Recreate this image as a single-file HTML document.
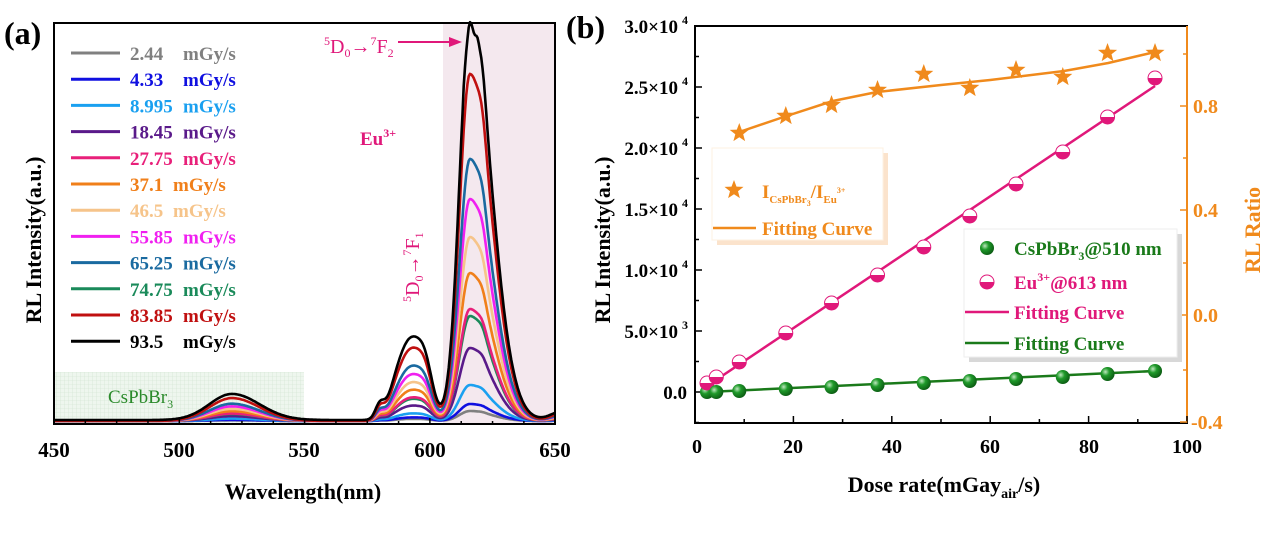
<!DOCTYPE html>
<html><head><meta charset="utf-8"><style>
body{margin:0;background:#fff;}
svg{display:block;font-family:"Liberation Serif",serif;}
</style></head><body>
<svg id="s" width="1268" height="539" viewBox="0 0 1268 539" xmlns="http://www.w3.org/2000/svg">
<defs>
<pattern id="grid" width="4" height="4" patternUnits="userSpaceOnUse"><rect width="4" height="4" fill="#eef6ee"/><path d="M0 0H4M0 0V4" stroke="#cfe3cf" stroke-width="0.6"/></pattern>
<radialGradient id="gb" cx="0.35" cy="0.35" r="0.7"><stop offset="0" stop-color="#bfe8bf"/><stop offset="0.4" stop-color="#1f9a2a"/><stop offset="1" stop-color="#0b5a12"/></radialGradient>
</defs>
<!-- Panel a -->
<rect x="443" y="23" width="112" height="401" fill="#f4e8ee"/>
<rect x="54" y="372" width="250" height="52" fill="url(#grid)"/>
<g id="curves" fill="none" stroke-width="2.6" stroke-linejoin="round"></g>
<rect x="54" y="23" width="501" height="401" fill="none" stroke="#000" stroke-width="2"/>
<g stroke="#000" stroke-width="1.5" id="ticksA"></g>
<g font-size="21" font-weight="bold" text-anchor="middle">
<text x="54" y="457">450</text><text x="179" y="457">500</text><text x="304" y="457">550</text><text x="430" y="457">600</text><text x="555" y="457">650</text>
</g>
<text x="303" y="499" font-size="22" font-weight="bold" text-anchor="middle">Wavelength(nm)</text>
<text transform="translate(41,240) rotate(-90)" font-size="22" font-weight="bold" text-anchor="middle">RL Intensity(a.u.)</text>
<text x="4" y="44" font-size="32" font-weight="bold">(a)</text>
<g id="legA" font-size="19" font-weight="bold"></g>
<text x="108" y="403" font-size="19" fill="#2a8a2a">CsPbBr<tspan font-size="12" dy="5">3</tspan></text>
<text x="360" y="145" font-size="19" font-weight="bold" fill="#e0187a">Eu<tspan font-size="12" dy="-8">3+</tspan></text>
<text x="324" y="53" font-size="20" fill="#e0187a"><tspan font-size="12" dy="-8">5</tspan><tspan dy="8">D</tspan><tspan font-size="12" dy="4">0</tspan><tspan dy="-4">→</tspan><tspan font-size="12" dy="-8">7</tspan><tspan dy="8">F</tspan><tspan font-size="12" dy="4">2</tspan></text>
<line x1="398" y1="42" x2="452" y2="42" stroke="#e0187a" stroke-width="2"/><polygon points="462,42 449,37 449,47" fill="#e0187a"/>
<text transform="translate(419,302) rotate(-90)" font-size="20" fill="#e0187a"><tspan font-size="12" dy="-8">5</tspan><tspan dy="8">D</tspan><tspan font-size="12" dy="4">0</tspan><tspan dy="-4">→</tspan><tspan font-size="12" dy="-8">7</tspan><tspan dy="8">F</tspan><tspan font-size="12" dy="4">1</tspan></text>

<!-- Panel b -->
<text x="566" y="38" font-size="32" font-weight="bold">(b)</text>
<rect x="695" y="26" width="492" height="397" fill="none" stroke="#000" stroke-width="2"/>
<line x1="1187" y1="26" x2="1187" y2="423" stroke="#f08a1c" stroke-width="2"/>
<g id="ticksB" stroke-width="1.5"></g>
<g font-size="19" font-weight="bold" text-anchor="end" id="ylabB"></g>
<g font-size="20" font-weight="bold" text-anchor="middle">
<text x="697" y="453">0</text><text x="793" y="453">20</text><text x="892" y="453">40</text><text x="990" y="453">60</text><text x="1089" y="453">80</text><text x="1187" y="453">100</text>
</g>
<g font-size="20" font-weight="bold" fill="#f08a1c">
<text x="1193" y="113">0.8</text><text x="1193" y="217">0.4</text><text x="1193" y="322">0.0</text><text x="1191" y="429">-0.4</text>
</g>
<text x="944" y="492" font-size="22" font-weight="bold" text-anchor="middle">Dose rate(mGay<tspan font-size="14" dy="6">air</tspan><tspan dy="-6">/s)</tspan></text>
<text transform="translate(610,240) rotate(-90)" font-size="22" font-weight="bold" text-anchor="middle">RL Intensity(a.u.)</text>
<text transform="translate(1260,230) rotate(-90)" font-size="22" font-weight="bold" text-anchor="middle" fill="#f08a1c">RL Ratio</text>
<g id="dataB"></g>
<!-- legends -->
<rect x="717" y="153" width="171" height="92" fill="#fbe3cc"/>
<rect x="712" y="148" width="171" height="92" fill="#fff" stroke="#fdf0e2"/>
<g font-size="19" font-weight="bold" fill="#f08a1c">
<text x="762" y="198">I<tspan font-size="11" dy="5">CsPbBr</tspan><tspan font-size="8" dy="3">3</tspan><tspan dy="-8">/I</tspan><tspan font-size="11" dy="5">Eu</tspan><tspan font-size="8" dy="-10">3+</tspan></text>
<text x="762" y="235">Fitting Curve</text>
</g>
<line x1="713" y1="228" x2="756" y2="228" stroke="#f08a1c" stroke-width="2.5"/>
<rect x="969" y="234" width="213" height="128" fill="#d8d8d8"/>
<rect x="964" y="229" width="213" height="128" fill="#fff" stroke="#eee"/>
<g font-size="19" font-weight="bold">
<text x="1014" y="255" fill="#1a7a1a">CsPbBr<tspan font-size="12" dy="5">3</tspan><tspan dy="-5">@510 nm</tspan></text>
<text x="1014" y="289" fill="#e0187a">Eu<tspan font-size="12" dy="-8">3+</tspan><tspan dy="8">@613 nm</tspan></text>
<text x="1014" y="319" fill="#e0187a">Fitting Curve</text>
<text x="1014" y="350" fill="#1a7a1a">Fitting Curve</text>
</g>
<line x1="965" y1="312" x2="1009" y2="312" stroke="#e0187a" stroke-width="2.5"/>
<line x1="965" y1="343" x2="1009" y2="343" stroke="#1a7a1a" stroke-width="2.5"/>
<g id="legB"></g>
</svg>
<script>
var NS="http://www.w3.org/2000/svg";
function el(p,t,a){var e=document.createElementNS(NS,t);for(var k in a)e.setAttribute(k,a[k]);document.getElementById(p).appendChild(e);return e;}
var X=function(l){return 54+(l-450)*2.506;};
function g(l,m,s){return Math.exp(-0.5*Math.pow((l-m)/s,2));}
function shape(l){
 var v=0;
 v+= (l<616? g(l,616,4.2):g(l,616,8.5));
 v+=0.05*g(l,621,1.5);
 v+=0.2*g(l,592.5,5)+0.07*g(l,598.5,2.8)+0.03*g(l,586,3);
 v+=0.035*g(l,580,1.8);
 v+=0.066*(l<521?g(l,521,9):g(l,521,11));
 v+=0.02*g(l,652,4);
 return v;}
var ser=[["#808080",10,"2.44","mGy/s",1],["#1010e0",17,"4.33","mGy/s",1],["#1aa0f0",36,"8.995","mGy/s",0],["#5a1a8a",73,"18.45","mGy/s",0],["#e8207a",112,"27.75","mGy/s",0],["#f07f1a",148,"37.1","mGy/s",0],["#f6c48a",184,"46.5","mGy/s",0],["#f020f0",222,"55.85","mGy/s",0],["#1a6aa0",262,"65.25","mGy/s",0],["#1a8a5a",105,"74.75","mGy/s",0],["#c01010",347,"83.85","mGy/s",0],["#000000",395,"93.5","mGy/s",1]];
var order=[0,1,2,3,9,4,5,6,7,8,10,11];
order.forEach(function(i){var s=ser[i];var d="";
 for(var l=450;l<=650;l+=0.5){var y=421-s[1]*shape(l)-(i==11?1:0);
  if(i==11&&l>613&&l<620)y+=3*Math.sin(l*2.2);
  d+=(l==450?"M":"L")+X(l).toFixed(1)+" "+y.toFixed(1);}
 el("curves","path",{d:d,stroke:s[0]});});
ser.forEach(function(s,i){var y=53+i*26.2;
 el("legA","line",{x1:71,x2:120,y1:y,y2:y,stroke:s[0],"stroke-width":3});
 var t=el("legA","text",{x:130,y:y+7,fill:s[0]});t.textContent=s[2];
 var t2=el("legA","text",{x:s[4]?183:(s[2].length>4?183:178),y:y+7,fill:s[0]});t2.textContent=s[3];
 if(s[2]=="37.1"||s[2]=="46.5"){t2.setAttribute("x",173);}});
for(var l=450;l<=650;l+=12.5){var big=(l%50==0);el("ticksA","line",{x1:X(l),x2:X(l),y1:424,y2:big?418:421});}
var XB=function(d){return 695+d*4.92;};
for(var d=0;d<=100;d+=10){el("ticksB","line",{x1:XB(d),x2:XB(d),y1:423,y2:d%20==0?416:419,stroke:"#000"});}
var yl=[["3.0×10","4",26],["2.5×10","4",87],["2.0×10","4",148],["1.5×10","4",209],["1.0×10","4",270],["5.0×10","3",331],["0.0","",392]];
yl.forEach(function(a){el("ticksB","line",{x1:695,x2:702,y1:a[2],y2:a[2],stroke:"#000"});
 el("ticksB","line",{x1:695,x2:699,y1:a[2]+30.5,y2:a[2]+30.5,stroke:"#000"});
 var t=el("ylabB","text",{x:a[1]?678:687,y:a[2]+7});t.textContent=a[0];
 if(a[1]){var s=el("ylabB","text",{x:688,y:a[2]-2,"font-size":12});s.textContent=a[1];}});
[106,210,315,422].forEach(function(y){el("ticksB","line",{x1:1187,x2:1180,y1:y,y2:y,stroke:"#f08a1c"});el("ticksB","line",{x1:1187,x2:1183,y1:y-52,y2:y-52,stroke:"#f08a1c"});});
var dose=[2.44,4.33,8.995,18.45,27.75,37.1,46.5,55.85,65.25,74.75,83.85,93.5];
var star=[null,null,133,116,105,90,74,88,70,77,53,53];
var pink=[383,377,362,333,303,275,247,216,184,152,117,78];
var green=[392,392,391,389,387,385,383,381,379,377,374,371];
function starPts(cx,cy,R){var p=[];for(var k=0;k<10;k++){var r=k%2?R*0.42:R;var a=-Math.PI/2+k*Math.PI/5;p.push((cx+r*Math.cos(a)).toFixed(1)+","+(cy+r*Math.sin(a)).toFixed(1));}return p.join(" ");}
var fo=[[9,132],[18,117],[28,101],[37,92],[50,85],[60,80],[75,71],[84,63],[93.5,52]];
var d="";fo.forEach(function(p,i){d+=(i?"L":"M")+XB(p[0])+" "+p[1];});
el("dataB","path",{d:d,stroke:"#f08a1c","stroke-width":2.5,fill:"none","stroke-linejoin":"round"});
el("dataB","line",{x1:XB(2.44),y1:386,x2:XB(93.5),y2:86,stroke:"#e0187a","stroke-width":2.5});
el("dataB","line",{x1:XB(2.44),y1:392,x2:XB(93.5),y2:371,stroke:"#1a7a1a","stroke-width":2.5});
function halfc(p,cx,cy,r){el(p,"circle",{cx:cx,cy:cy,r:r,fill:"#fff",stroke:"#e0187a","stroke-width":1});
 el(p,"path",{d:"M"+(cx-r)+" "+cy+"A"+r+" "+r+" 0 0 0 "+(cx+r)+" "+cy+"Z",fill:"#e0187a"});}
dose.forEach(function(x,i){
 el("dataB","circle",{cx:XB(x),cy:green[i],r:7,fill:"url(#gb)"});
 halfc("dataB",XB(x),pink[i],7);
 if(star[i])el("dataB","polygon",{points:starPts(XB(x),star[i],10),fill:"#f08a1c"});});
el("legB","polygon",{points:starPts(734,190,10),fill:"#f08a1c"});
el("legB","circle",{cx:987,cy:248,r:7,fill:"url(#gb)"});
halfc("legB",987,282,7);
</script>
</body></html>
